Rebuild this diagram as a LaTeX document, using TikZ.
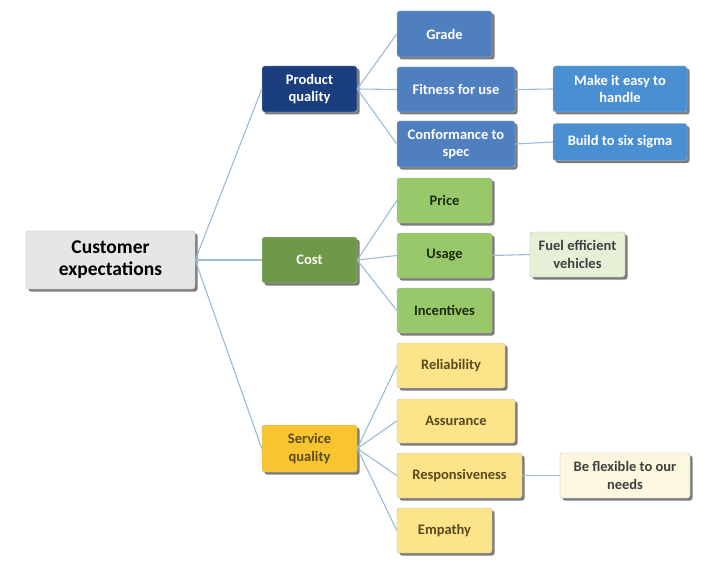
\documentclass[tikz,border=0pt]{standalone}
\usepackage{fontspec}
\setmainfont{Carlito}
\usetikzlibrary{shadows}
\definecolor{lnk}{HTML}{9DBBD8}
\definecolor{ceF}{HTML}{E6E6E6}
\definecolor{pqF}{HTML}{1B3F7E}
\definecolor{blF}{HTML}{4F7FBF}
\definecolor{blL}{HTML}{4A8FD2}
\definecolor{cgF}{HTML}{6F9848}
\definecolor{lgF}{HTML}{98C86A}
\definecolor{vgF}{HTML}{E6F0D6}
\definecolor{sqF}{HTML}{F8C430}
\definecolor{lyF}{HTML}{FDE389}
\definecolor{cyF}{HTML}{FCF7DF}
\definecolor{dgT}{HTML}{1C2E10}
\definecolor{olT}{HTML}{5A4A1E}
\tikzset{
  box/.style={draw=black!25, line width=0.4pt, rounded corners=2.5pt, align=center, inner sep=0pt,
    font=\bfseries\fontsize{14.5}{17.5}\selectfont,
    drop shadow={shadow xshift=2.5pt, shadow yshift=-2.5pt, fill=black!60, opacity=0.85}},
  link/.style={draw=lnk, line width=1.1pt}
}
\begin{document}
\begin{tikzpicture}[x=1pt,y=-1pt]
\useasboundingbox (0,0) rectangle (720,567);
\fill[white] (0,0) rectangle (720,567);
% level 0
\node[box, fill=ceF, text=black, minimum width=169pt, minimum height=58pt,
  font=\bfseries\fontsize{19.5}{22}\selectfont] (ce) at (110.5,260) {Customer\\expectations};
% level 1
\node[box, fill=pqF, text=white, minimum width=95pt, minimum height=46pt] (pq) at (309.5,89) {Product\\quality};
\node[box, fill=cgF, text=white, minimum width=95pt, minimum height=46pt] (cost) at (309.5,260) {Cost};
\node[box, fill=sqF, text=olT, minimum width=95pt, minimum height=47pt] (sq) at (309.5,448.5) {Service\\quality};
% product quality children
\node[box, fill=blF, text=white, minimum width=95pt, minimum height=46pt] (grade) at (444.5,34) {Grade};
\node[box, fill=blF, text=white, minimum width=118pt, minimum height=45pt] (fit) at (456,89.5) {Fitness for use};
\node[box, fill=blF, text=white, minimum width=118pt, minimum height=46pt] (conf) at (456,144) {Conformance to\\spec};
\node[box, fill=blL, text=white, minimum width=134pt, minimum height=46pt] (make) at (620,89) {Make it easy to\\handle};
\node[box, fill=blL, text=white, minimum width=134pt, minimum height=37pt] (build) at (620,142) {Build to six sigma};
% cost children
\node[box, fill=lgF, text=dgT, minimum width=95pt, minimum height=45pt] (price) at (444.5,200.5) {Price};
\node[box, fill=lgF, text=dgT, minimum width=95pt, minimum height=45pt] (usage) at (444.5,255.5) {Usage};
\node[box, fill=lgF, text=dgT, minimum width=95pt, minimum height=45pt] (inc) at (444.5,310.5) {Incentives};
\node[box, fill=vgF, text=black!75, minimum width=95pt, minimum height=45pt] (fuel) at (577.5,254.5) {Fuel efficient\\vehicles};
% service quality children
\node[box, fill=lyF, text=olT, minimum width=108pt, minimum height=45pt] (rel) at (451,365.5) {Reliability};
\node[box, fill=lyF, text=olT, minimum width=118pt, minimum height=44pt] (ass) at (456,421) {Assurance};
\node[box, fill=lyF, text=olT, minimum width=125pt, minimum height=45pt] (resp) at (459.5,475.5) {Responsiveness};
\node[box, fill=lyF, text=olT, minimum width=95pt, minimum height=45pt] (emp) at (444.5,530.5) {Empathy};
\node[box, fill=cyF, text=black!75, minimum width=130pt, minimum height=45pt] (flex) at (625,475.5) {Be flexible to our\\needs};
% connectors
\draw[link] (ce.east) -- (pq.west);
\draw[link] (ce.east) -- (cost.west);
\draw[link] (ce.east) -- (sq.west);
\draw[link] (pq.east) -- (grade.west);
\draw[link] (pq.east) -- (fit.west);
\draw[link] (pq.east) -- (conf.west);
\draw[link] (fit.east) -- (make.west);
\draw[link] (conf.east) -- (build.west);
\draw[link] (cost.east) -- (price.west);
\draw[link] (cost.east) -- (usage.west);
\draw[link] (cost.east) -- (inc.west);
\draw[link] (usage.east) -- (fuel.west);
\draw[link] (sq.east) -- (rel.west);
\draw[link] (sq.east) -- (ass.west);
\draw[link] (sq.east) -- (resp.west);
\draw[link] (sq.east) -- (emp.west);
\draw[link] (resp.east) -- (flex.west);
\end{tikzpicture}
\end{document}
